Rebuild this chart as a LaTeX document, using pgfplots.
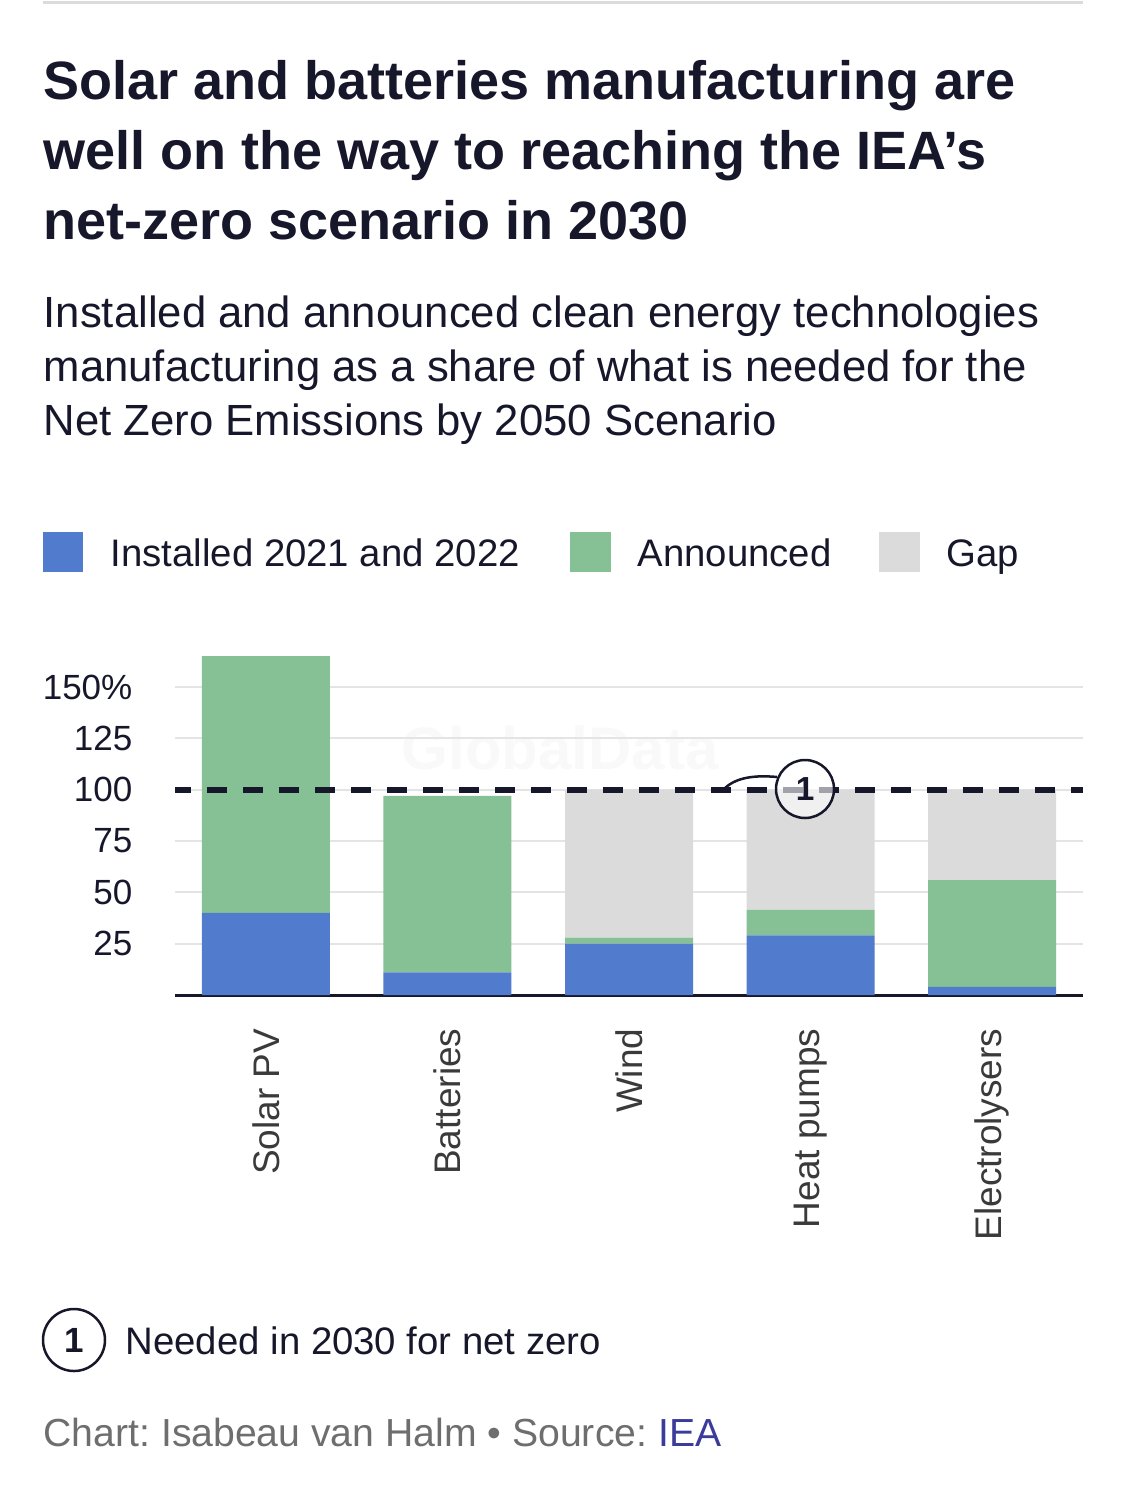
\documentclass[border=0pt]{standalone}
\usepackage{pgfplots}
\pgfplotsset{compat=1.18}
\usepackage{pgfplotstable}
\usepackage{fontspec}
\setmainfont{Liberation Sans}
\frenchspacing

\definecolor{inst}{HTML}{517BCD}
\definecolor{annc}{HTML}{85C194}
\definecolor{gapc}{HTML}{DBDBDB}
\definecolor{gridc}{HTML}{E4E4E4}
\definecolor{ink}{HTML}{17172B}
\definecolor{catink}{HTML}{3A3A3A}
\definecolor{foot}{HTML}{6E6E6E}
\definecolor{link}{HTML}{3B3B9B}

% share of NZE 2030 need, %
\pgfplotstableread{
cat inst annc gap
0   40   125  0
1   11   86   0
2   25   3    72
3   29   12.5 58.5
4   4    52   44
}\shares

\begin{document}
\begin{tikzpicture}
\path[use as bounding box] (0,0) rectangle (337.5pt,-445.8pt);

% everything outside the axis is placed in pixel units of the reference
\begin{scope}[x=0.3pt,y=-0.3pt]
  \draw[gapc, line width=0.9pt] (43,3) -- (1083,3);
  \begin{scope}[every node/.style={anchor=base west, inner sep=0pt, text=ink,
      font=\fontsize{16.2pt}{21pt}\selectfont\bfseries}]
    \node at (43,100) {Solar and batteries manufacturing are};
    \node at (43,170) {well on the way to reaching the IEA’s};
    \node at (43,240) {net-zero scenario in 2030};
  \end{scope}
  \begin{scope}[every node/.style={anchor=base west, inner sep=0pt, text=ink,
      font=\fontsize{13.1pt}{16pt}\selectfont}]
    \node at (43,328) {Installed and announced clean energy technologies};
    \node at (43,382) {manufacturing as a share of what is needed for the};
    \node at (43,436) {Net Zero Emissions by 2050 Scenario};
  \end{scope}
  % legend
  \fill[inst] (43,532) rectangle (83,572);
  \fill[annc] (570,532) rectangle (611,572);
  \fill[gapc] (879,532) rectangle (920,572);
  \begin{scope}[every node/.style={anchor=base west, inner sep=0pt, text=ink,
      font=\fontsize{11.5pt}{14pt}\selectfont}]
    \node at (110,566) {Installed 2021 and 2022};
    \node at (637,566) {Announced};
    \node at (946,566) {Gap};
  \end{scope}
  % watermark
  \node[text=black!2.5, font=\fontsize{18pt}{20pt}\selectfont\bfseries] at (560,748) {GlobalData};
\end{scope}

\begin{axis}[
  at={(52.5pt,-298.5pt)}, anchor=south west,
  scale only axis, width=272.4pt, height=101.64pt,
  ybar stacked, bar width=38.4pt,
  xmin=-0.5, xmax=4.5, ymin=0, ymax=165,
  xtick=data,
  xticklabels={Solar PV,Batteries,Wind,Heat pumps,Electrolysers},
  ytick={25,50,75,100,125,150},
  yticklabels={25,50,75,100,125,150\%},
  ymajorgrids, grid style={gridc, line width=0.6pt},
  axis x line*=bottom, axis y line*=left,
  y axis line style={draw=none},
  x axis line style={ink, line width=0.9pt, -},
  major tick length=0pt,
  /pgf/number format/assume math mode=true,
  xticklabel style={rotate=90, anchor=east, inner sep=0pt, text=catink,
    font=\fontsize{11.1pt}{13pt}\selectfont},
  xticklabel shift=9.9pt,
  yticklabel style={anchor=east, inner sep=0pt, xshift=-12.6pt, text=ink,
    font=\fontsize{10.5pt}{12pt}\selectfont},
  clip=false,
]
  \addplot[fill=inst, draw=none] table[x=cat, y=inst] {\shares};
  \addplot[fill=annc, draw=none] table[x=cat, y=annc] {\shares};
  \addplot[fill=gapc, draw=none] table[x=cat, y=gap] {\shares};
  % ends of the 100% reference line, drawn after the bars
  \coordinate (need-l) at (axis cs:-0.5,100);
  \coordinate (need-r) at (axis cs:4.5,100);
\end{axis}
\draw[ink, line width=1.7pt, dash pattern=on 6pt off 4.8pt, dash phase=1.2pt]
  (need-l) -- (need-r);

\begin{scope}[x=0.3pt,y=-0.3pt]
  % annotation marker
  \draw[ink, line width=0.75pt] (723,790) .. controls (735,777) and (755,775) .. (777,777);
  \draw[ink, line width=0.75pt, fill=white, fill opacity=0.6] (805,789) circle[radius=8.7pt];
  \node[text=ink, font=\fontsize{10pt}{12pt}\selectfont\bfseries] at (805,789) {1};
  % footnote
  \draw[ink, line width=0.75pt] (74,1340) circle[radius=9.3pt];
  \node[text=ink, font=\fontsize{10.5pt}{12pt}\selectfont\bfseries] at (74,1340) {1};
  \node[anchor=base west, inner sep=0pt, text=ink, font=\fontsize{11.5pt}{14pt}\selectfont]
    at (125,1354) {Needed in 2030 for net zero};
  \node[anchor=base west, inner sep=0pt, text=foot, font=\fontsize{11.75pt}{14pt}\selectfont]
    at (43,1446) {Chart: Isabeau van Halm • Source: \textcolor{link}{IEA}};
\end{scope}
\end{tikzpicture}
\end{document}
